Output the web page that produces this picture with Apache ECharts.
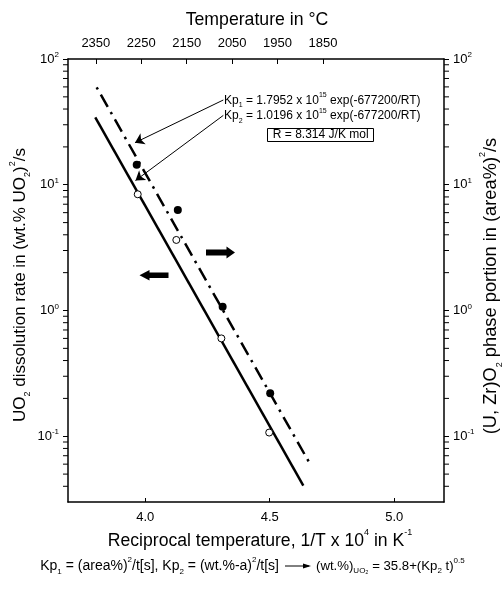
<!DOCTYPE html>
<html><head><meta charset="utf-8">
<script src="https://cdn.jsdelivr.net/npm/echarts@6/dist/echarts.min.js"></script>
<style>html,body{margin:0;padding:0;background:#fff}#c{width:504px;height:594px}</style>
</head><body><div id="c"></div>
<script>
// ---- data ----
const xTicks = [4.0, 4.5, 5.0];
const tempTicks = [2350, 2250, 2150, 2050, 1950, 1850];
const minorVals = [0.04, 0.05, 0.06, 0.07, 0.08, 0.09,
                   0.2, 0.3, 0.4, 0.5, 0.6, 0.7, 0.8, 0.9,
                   2, 3, 4, 5, 6, 7, 8, 9,
                   20, 30, 40, 50, 60, 70, 80, 90];
// Kp1 : (U,Zr)O2 phase portion (filled circles, right axis)
const kp1X = [3.966, 4.131, 4.311, 4.502];
const kp1Y = [14.4, 6.3, 1.07, 0.22];
// Kp2 : UO2 dissolution rate (open circles, left axis)
const kp2X = [3.970, 4.125, 4.306, 4.498];
const kp2Y = [8.4, 3.64, 0.60, 0.107];
// fitted lines (end points)
const kp1LineX = [3.805, 4.659];
const kp1LineY = [59.6, 0.0617];
const kp2LineX = [3.7996, 4.635];
const kp2LineY = [34.4, 0.0405];
// annotation leader arrows [start, tip]
const arrowKp1 = [[4.3137, 47.2], [3.959, 21.6]];
const arrowKp2 = [[4.3137, 35.6], [3.961, 10.8]];

const FONT = "'Liberation Sans', Arial, Helvetica, sans-serif";
const zip = (a, b) => a.map((v, i) => [v, b[i]]);

const chart = echarts.init(document.getElementById('c'), null, {renderer: 'canvas'});

const supRich = {
  sup: {fontSize: 8, lineHeight: 9, verticalAlign: 'top', fontFamily: FONT, color: '#000'},
  base: {fontSize: 13, lineHeight: 16, fontFamily: FONT, color: '#000'}
};
function logFmt(v) {
  const l = Math.log10(v);
  const e = Math.round(l);
  if (Math.abs(l - e) > 1e-6) return '';
  return '{base|10}{sup|' + e + '}';
}
const yAxisCommon = {
  type: 'log', logBase: 10, min: 0.03, max: 100,
  axisLine: {show: true, lineStyle: {color: '#000', width: 1.5}},
  axisTick: {show: true, inside: false, length: 5, lineStyle: {color: '#000', width: 1}},
  axisLabel: {formatter: logFmt, rich: supRich, margin: 9, color: '#000', showMinLabel: false},
  splitLine: {show: false}, minorTick: {show: false}
};

function txt(x, y, text, opts) {
  opts = opts || {};
  const fs = opts.fontSize || 13;
  return {
    type: 'text', x: x, y: y, rotation: opts.rotation || 0, z: 100,
    style: {
      text: text, x: 0, y: 0, fill: '#000',
      font: fs + 'px ' + FONT, fontSize: fs, fontFamily: FONT,
      align: opts.align || 'center', verticalAlign: 'middle',
      lineHeight: opts.lineHeight || Math.round(fs * 1.4),
      rich: {
        sup: {fontSize: opts.supSize || Math.round(fs * 0.62), lineHeight: Math.round(fs * 0.7), verticalAlign: 'top', fontFamily: FONT, fill: '#000'},
        sub: {fontSize: opts.supSize || Math.round(fs * 0.62), lineHeight: Math.round(fs * 0.8), verticalAlign: 'bottom', fontFamily: FONT, fill: '#000'}
      }
    }
  };
}

const option = {
  backgroundColor: '#fff',
  animation: false,
  textStyle: {fontFamily: FONT, color: '#000'},
  grid: {left: 68, right: 60, top: 59, bottom: 92},
  xAxis: [
    {
      type: 'value', position: 'bottom', min: 3.69, max: 5.2,
      axisLine: {show: true, onZero: false, lineStyle: {color: '#000', width: 1.5}},
      axisTick: {show: true, inside: true, length: 4, customValues: xTicks, lineStyle: {color: '#000', width: 1}},
      axisLabel: {customValues: xTicks, formatter: v => v.toFixed(1), margin: 9, fontSize: 13, color: '#000', fontFamily: FONT},
      splitLine: {show: false}
    },
    {
      type: 'value', position: 'top', inverse: true, min: 1583.5, max: 2411.3,
      axisLine: {show: true, onZero: false, lineStyle: {color: '#000', width: 1.5}},
      axisTick: {show: true, inside: true, length: 5, customValues: tempTicks, lineStyle: {color: '#000', width: 1}},
      axisLabel: {customValues: tempTicks, formatter: v => String(Math.round(v)), margin: 9, fontSize: 13, color: '#000', fontFamily: FONT},
      splitLine: {show: false}
    }
  ],
  yAxis: [
    Object.assign({}, yAxisCommon, {position: 'left'}),
    Object.assign({}, yAxisCommon, {position: 'right'})
  ],
  series: [
    {
      type: 'line', xAxisIndex: 0, yAxisIndex: 0, data: zip(kp2LineX, kp2LineY),
      symbol: 'none', lineStyle: {color: '#000', width: 2.5}, z: 3
    },
    {
      type: 'line', xAxisIndex: 0, yAxisIndex: 1, data: zip(kp1LineX, kp1LineY),
      symbol: 'none', lineStyle: {color: '#000', width: 2.5, type: [2.5, 6, 14, 6], cap: 'butt'}, z: 3
    },
    {
      type: 'scatter', xAxisIndex: 0, yAxisIndex: 0, data: zip(kp2X, kp2Y),
      symbol: 'circle', symbolSize: 7,
      itemStyle: {color: '#fff', borderColor: '#000', borderWidth: 1, opacity: 1}, z: 5
    },
    {
      type: 'scatter', xAxisIndex: 0, yAxisIndex: 1, data: zip(kp1X, kp1Y),
      symbol: 'circle', symbolSize: 8,
      itemStyle: {color: '#000', opacity: 1}, z: 5
    },
    {
      type: 'lines', coordinateSystem: 'cartesian2d', xAxisIndex: 0, yAxisIndex: 0,
      data: [{coords: arrowKp1}, {coords: arrowKp2}],
      symbol: ['none', 'arrow'], symbolSize: [6, 9],
      lineStyle: {color: '#000', width: 1, opacity: 1, curveness: 0}, z: 4
    },
    {
      type: 'custom', xAxisIndex: 0, yAxisIndex: 0,
      data: minorVals.map(v => [xTicks[0], v]),
      silent: true, clip: false,
      renderItem: function (params, api) {
        const cs = params.coordSys;
        const y = api.coord([api.value(0), api.value(1)])[1];
        const xl = cs.x, xr = cs.x + cs.width;
        return {
          type: 'group',
          children: [
            {type: 'line', shape: {x1: xl - 5, y1: y, x2: xl, y2: y}, style: {stroke: '#000', lineWidth: 1}},
            {type: 'line', shape: {x1: xr, y1: y, x2: xr + 5, y2: y}, style: {stroke: '#000', lineWidth: 1}}
          ]
        };
      }
    }
  ],
  graphic: [
    txt(257, 20, 'Temperature in °C', {fontSize: 17.7}),
    txt(260, 541, 'Reciprocal temperature, 1/T x 10{sup|4} in K{sup|-1}', {fontSize: 17.6, supSize: 9}),
    txt(20, 285, 'UO{sub|2} dissolution rate in (wt.% UO{sub|2}){sup|2}/s', {fontSize: 17, rotation: Math.PI / 2, supSize: 9}),
    txt(491, 286, '(U, Zr)O{sub|2} phase portion in (area%){sup|2}/s', {fontSize: 18.3, rotation: Math.PI / 2, supSize: 9}),
    txt(224, 100.5, 'Kp{sub|1} = 1.7952 x 10{sup|15} exp(-677200/RT)', {fontSize: 12, align: 'left', supSize: 7}),
    txt(224, 116, 'Kp{sub|2} = 1.0196 x 10{sup|15} exp(-677200/RT)', {fontSize: 12, align: 'left', supSize: 7}),
    {type: 'rect', shape: {x: 267.5, y: 128.5, width: 106, height: 13}, style: {fill: 'none', stroke: '#000', lineWidth: 1}, z: 100},
    txt(320.7, 135, 'R = 8.314 J/K mol', {fontSize: 12}),
    // big direction arrows
    {type: 'polygon', z: 100, shape: {points: [[206, 249.5], [226.5, 249.5], [226.5, 246.5], [235, 252.5], [226.5, 258.5], [226.5, 255.5], [206, 255.5]]}, style: {fill: '#000'}},
    {type: 'polygon', z: 100, shape: {points: [[168.5, 272.5], [149.5, 272.5], [149.5, 270], [139.5, 275.3], [149.5, 280.5], [149.5, 278], [168.5, 278]]}, style: {fill: '#000'}},
    // bottom formula
    txt(279, 566, 'Kp{sub|1} = (area%){sup|2}/t[s], Kp{sub|2} = (wt.%-a){sup|2}/t[s]', {fontSize: 14, align: 'right', supSize: 8}),
    {type: 'line', z: 100, shape: {x1: 285, y1: 566, x2: 309, y2: 566}, style: {stroke: '#000', lineWidth: 1}},
    {type: 'polygon', z: 100, shape: {points: [[303, 563.5], [311, 566], [303, 568.5]]}, style: {fill: '#000'}},
    txt(316, 566, '(wt.%){sub|UO₂} = 35.8+(Kp{sub|2} t){sup|0.5}', {fontSize: 13.2, align: 'left', supSize: 8})
  ]
};
chart.setOption(option);
</script>
</body></html>
